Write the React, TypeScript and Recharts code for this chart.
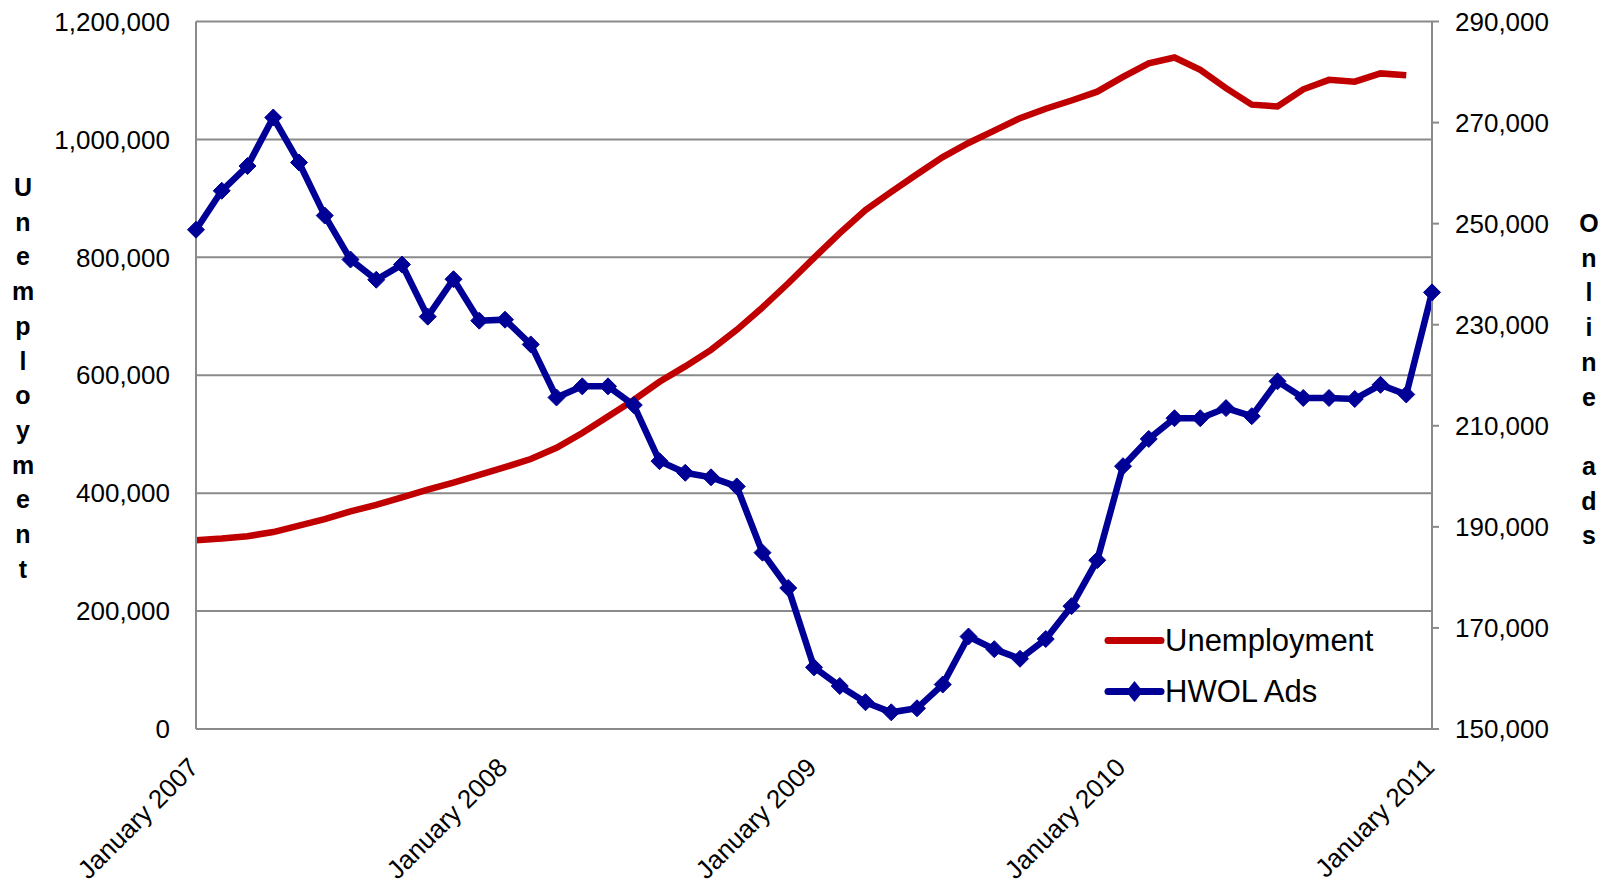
import React from "react";
import { LineChart, Line, XAxis, YAxis, CartesianGrid } from "recharts";

const months: string[] = [
  "January 2007", "February 2007", "March 2007", "April 2007", "May 2007", "June 2007",
  "July 2007", "August 2007", "September 2007", "October 2007", "November 2007", "December 2007",
  "January 2008", "February 2008", "March 2008", "April 2008", "May 2008", "June 2008",
  "July 2008", "August 2008", "September 2008", "October 2008", "November 2008", "December 2008",
  "January 2009", "February 2009", "March 2009", "April 2009", "May 2009", "June 2009",
  "July 2009", "August 2009", "September 2009", "October 2009", "November 2009", "December 2009",
  "January 2010", "February 2010", "March 2010", "April 2010", "May 2010", "June 2010",
  "July 2010", "August 2010", "September 2010", "October 2010", "November 2010", "December 2010",
  "January 2011",
];

const unemployment: number[] = [
  320000, 323000, 327000, 334000, 345000, 356000, 369000, 380000, 393000, 406000, 418000, 431000,
  444000, 458000, 477000, 502000, 530000, 558000, 589000, 615000, 643000, 677000, 715000, 756000,
  799000, 841000, 880000, 911000, 941000, 970000, 994000, 1015000, 1036000, 1052000, 1066000, 1081000,
  1106000, 1129000, 1139000, 1118000, 1087000, 1059000, 1056000, 1085000, 1101000, 1098000, 1112000, 1109000,
];

const hwolAds: number[] = [
  248800, 256500, 261400, 271000, 262100, 251600, 242900, 238900, 241900, 231600, 239000, 230800,
  231000, 226100, 215600, 217800, 217800, 214100, 203000, 200700, 199800, 198000, 184900, 177900,
  162200, 158500, 155300, 153300, 154100, 158800, 168300, 165800, 163900, 167800, 174300, 183400,
  202000, 207400, 211500, 211500, 213500, 211900, 218800, 215500, 215500, 215300, 218100, 216200,
  236400,
];

const leftTicks: number[] = [0, 200000, 400000, 600000, 800000, 1000000, 1200000];
const rightTicks: number[] = [150000, 170000, 190000, 210000, 230000, 250000, 270000, 290000];
const leftTitle: string[] = ["U", "n", "e", "m", "p", "l", "o", "y", "m", "e", "n", "t"];
const rightTitle: string[] = ["O", "n", "l", "i", "n", "e", "", "a", "d", "s"];
const seriesNames: string[] = ["Unemployment", "HWOL Ads"];

const data = months.map((m, i) => ({
  month: m,
  unemployment: i < unemployment.length ? unemployment[i] : undefined,
  hwol: hwolAds[i],
}));

const FONT = "'Liberation Sans', Arial, sans-serif";
const RED = "#C00000";
const BLUE = "#000096";
const GRID = "#8a8a8a";
const TICK_FS = 26;

const fmt = (v: number) => v.toLocaleString("en-US");

const Diamond = (props: any) => {
  const { cx, cy } = props;
  if (cx == null || cy == null) return null;
  const r = 8.5;
  return (
    <polygon
      points={`${cx},${cy - r} ${cx + r},${cy} ${cx},${cy + r} ${cx - r},${cy}`}
      fill={BLUE}
      stroke={BLUE}
      strokeWidth={1}
    />
  );
};

const XTick = (props: any) => {
  const { x, y, payload } = props;
  const ax = x + 4;
  const ay = y + 40;
  return (
    <text
      x={ax}
      y={ay}
      transform={`rotate(-45, ${ax}, ${ay})`}
      textAnchor="end"
      fontSize={TICK_FS}
      fontFamily={FONT}
      fill="#000"
    >
      {payload.value}
    </text>
  );
};

const LeftTitle = () => (
  <text fontFamily={FONT} fontWeight="bold" fontSize={25} fill="#000" textAnchor="middle">
    {leftTitle.map((c, i) => (
      <tspan key={i} x={23} y={196 + i * 34.7}>
        {c}
      </tspan>
    ))}
  </text>
);

const RightTitle = () => (
  <text fontFamily={FONT} fontWeight="bold" fontSize={25} fill="#000" textAnchor="middle">
    {rightTitle.map((c, i) =>
      c ? (
        <tspan key={i} x={1589} y={232 + i * 34.7}>
          {c}
        </tspan>
      ) : null
    )}
  </text>
);

const LegendBox = () => (
  <div
    style={{
      position: "absolute",
      left: 1104,
      top: 615,
      fontFamily: FONT,
      fontSize: 31,
      color: "#000",
      lineHeight: "51px",
    }}
  >
    <div style={{ display: "flex", alignItems: "center", height: 51 }}>
      <svg width={61} height={51} style={{ display: "block" }}>
        <line x1={4} y1={25.5} x2={57} y2={25.5} stroke={RED} strokeWidth={7} strokeLinecap="round" />
      </svg>
      <span>{seriesNames[0]}</span>
    </div>
    <div style={{ display: "flex", alignItems: "center", height: 51 }}>
      <svg width={61} height={51} style={{ display: "block" }}>
        <line x1={4} y1={25.5} x2={57} y2={25.5} stroke={BLUE} strokeWidth={7} strokeLinecap="round" />
        <polygon points="30.5,15 39,25.5 30.5,36 22,25.5" fill={BLUE} />
      </svg>
      <span>{seriesNames[1]}</span>
    </div>
  </div>
);

export default function App() {
  return (
    <div style={{ position: "absolute", left: 0, top: 0, width: 1604, height: 887, background: "#fff" }}>
      <LineChart
        width={1604}
        height={887}
        data={data}
        margin={{ top: 21.5, right: 0, left: 0, bottom: 0 }}
      >
        <CartesianGrid yAxisId="left" vertical={false} stroke={GRID} strokeWidth={2} />
        <XAxis
          dataKey="month"
          interval={11}
          height={158}
          tickLine={false}
          tickSize={0}
          tickMargin={0}
          axisLine={{ stroke: GRID, strokeWidth: 2 }}
          tick={<XTick />}
        />
        <YAxis
          yAxisId="left"
          orientation="left"
          width={196}
          domain={[0, 1200000]}
          ticks={leftTicks}
          tickFormatter={fmt}
          tickLine={false}
          tickSize={0}
          tickMargin={26}
          axisLine={{ stroke: GRID, strokeWidth: 2 }}
          tick={{ fontSize: TICK_FS, fontFamily: FONT, fill: "#000" }}
          interval={0}
          label={{ content: () => <LeftTitle /> }}
        />
        <YAxis
          yAxisId="right"
          orientation="right"
          width={172}
          domain={[150000, 290000]}
          ticks={rightTicks}
          tickFormatter={fmt}
          tickLine={{ stroke: GRID, strokeWidth: 2 }}
          tickSize={7}
          tickMargin={16}
          axisLine={{ stroke: GRID, strokeWidth: 2 }}
          tick={{ fontSize: TICK_FS, fontFamily: FONT, fill: "#000" }}
          interval={0}
          label={{ content: () => <RightTitle /> }}
        />
        <Line
          yAxisId="left"
          type="linear"
          name={seriesNames[0]}
          dataKey="unemployment"
          stroke={RED}
          strokeWidth={6.5}
          dot={false}
          activeDot={false}
          isAnimationActive={false}
          connectNulls={false}
        />
        <Line
          yAxisId="right"
          type="linear"
          name={seriesNames[1]}
          dataKey="hwol"
          stroke={BLUE}
          strokeWidth={6.5}
          dot={<Diamond />}
          activeDot={false}
          isAnimationActive={false}
        />
      </LineChart>
      <LegendBox />
    </div>
  );
}
